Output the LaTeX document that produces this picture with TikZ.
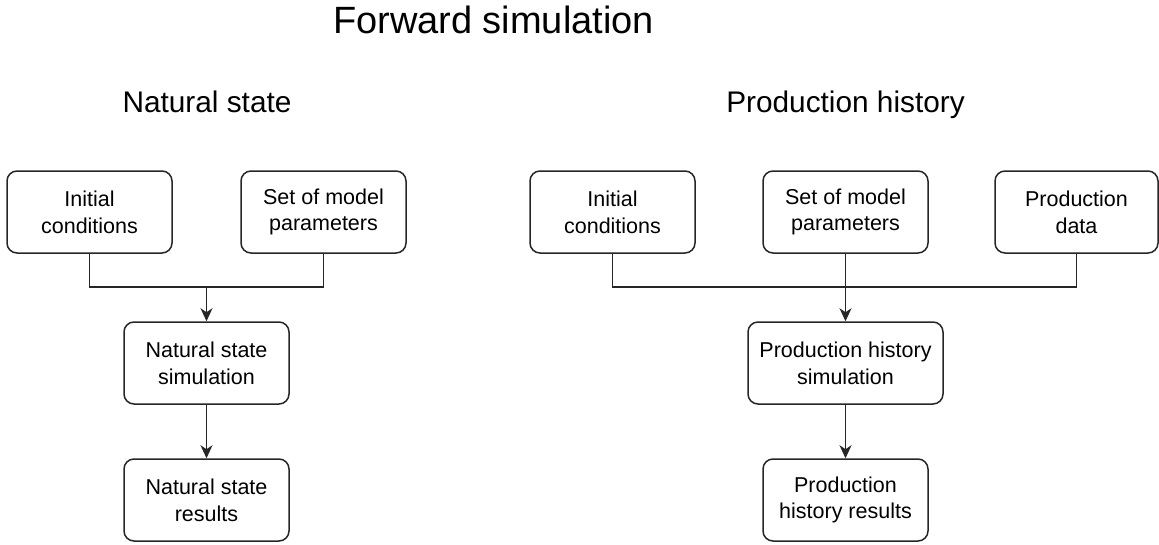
\documentclass[tikz,border=0pt]{standalone}
\usepackage{fontspec}
\setmainfont{Liberation Sans}
\usetikzlibrary{arrows.meta}

\begin{document}
\begin{tikzpicture}[x=1pt, y=-1pt,
    box/.style={draw=black!85, line width=1.5pt, rounded corners=10pt, minimum width=165pt,
      minimum height=82pt, inner sep=0pt, align=center, font=\fontsize{21.5}{26.7}\selectfont},
    arr/.style={-{Stealth[length=13pt, width=12pt, inset=4pt]}, line width=1.5pt, draw=black!85},
    link/.style={line width=1.5pt, draw=black!85}]
    \useasboundingbox (0,0) rectangle (1159,544);
    % headings
    \node[anchor=base, font=\fontsize{38}{44}\selectfont] (title) at (493.5, 33.5) {Forward simulation};
    \node[anchor=base, font=\fontsize{29.8}{34}\selectfont] (nat) at (207, 112.5) {Natural state};
    \node[anchor=base, font=\fontsize{29.8}{34}\selectfont] (prod) at (845.5, 112.5) {Production history};
    % natural state
    \node[box] (nic) at (89.5, 212) {Initial\\conditions};
    \node[box] (nsp) at (323.5, 212) {Set of model\\parameters};
    \node[box] (nsim) at (206.5, 363) {Natural state\\simulation};
    \node[box] (nres) at (206.5, 500) {Natural state\\results};
    \coordinate (nj) at (206.5, 287);
    \draw [link] (nic.south) |- (nj) -| (nsp.south);
    \draw [arr] (nj) to (nsim);
    \draw [arr] (nsim) to (nres);
    % production history
    \node[box] (pic) at (612.5, 212) {Initial\\conditions};
    \node[box] (psp) at (845.5, 212) {Set of model\\parameters};
    \node[box, minimum width=163pt] (pdat) at (1076.5, 212) {Production\\data};
    \node[box, minimum width=195pt] (psim) at (845.5, 363) {Production history\\simulation};
    \node[box] (pres) at (845.5, 500) {Production\\history results};
    \coordinate (pj) at (845.5, 287);
    \draw [link] (pic.south) |- (pj) -| (pdat.south);
    \draw [arr] (psp) to (psim);
    \draw [arr] (psim) to (pres);
\end{tikzpicture}
\end{document}
